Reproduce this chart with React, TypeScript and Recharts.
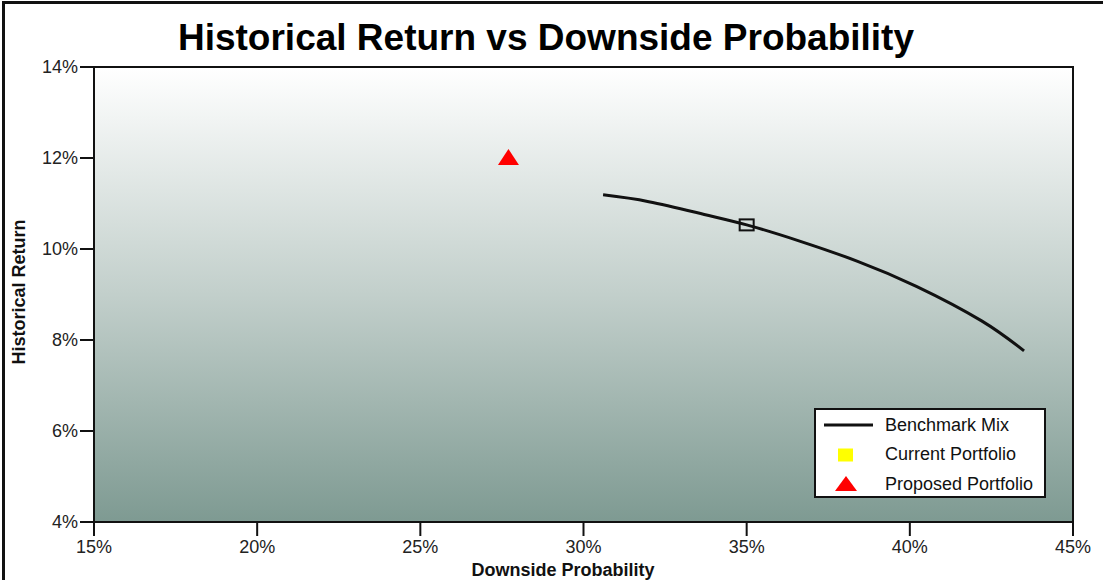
import React from "react";
import {
  ComposedChart,
  XAxis,
  YAxis,
  Line,
  Scatter,
  ReferenceArea,
  Legend,
} from "recharts";

// Benchmark mix frontier (downside probability %, historical return %)
const benchmarkX = [30.6, 32.0, 33.7, 35.0, 36.6, 38.4, 40.2, 42.2, 43.5];
const benchmarkY = [11.19, 11.04, 10.76, 10.53, 10.18, 9.73, 9.18, 8.42, 7.76];

// marked point on the benchmark curve
const currentX = [35.0];
const currentY = [10.53];

const proposedX = [27.7];
const proposedY = [12.0];

const xTicks = [15, 20, 25, 30, 35, 40, 45];
const yTicks = [4, 6, 8, 10, 12, 14];

const legendItems = ["Benchmark Mix", "Current Portfolio", "Proposed Portfolio"];

const benchmarkData = benchmarkX.map((x, i) => ({ x, y: benchmarkY[i] }));
const currentData = currentX.map((x, i) => ({ x, y: currentY[i] }));
const proposedData = proposedX.map((x, i) => ({ x, y: proposedY[i] }));

const FONT = '"Liberation Sans", Arial, Helvetica, sans-serif';

const HollowSquare = (props: any) => {
  const { cx, cy } = props;
  return (
    <rect x={cx - 7} y={cy - 5.5} width={14} height={11} fill="none" stroke="#111" strokeWidth={2} />
  );
};

const RedTriangle = (props: any) => {
  const { cx, cy } = props;
  return (
    <polygon
      points={`${cx},${cy - 9} ${cx + 10.5},${cy + 7} ${cx - 10.5},${cy + 7}`}
      fill="#ff0000"
    />
  );
};

const LegendBox = () => (
  <div
    style={{
      width: 232,
      height: 90,
      boxSizing: "border-box",
      border: "2px solid #111",
      background: "#fff",
      fontFamily: FONT,
      fontSize: 18,
      color: "#111",
      position: "relative",
    }}
  >
    {legendItems.map((name, i) => (
      <div
        key={name}
        style={{ position: "absolute", left: 0, top: 3 + i * 29.5, height: 24, width: 228, display: "flex", alignItems: "center" }}
      >
        <svg width={69} height={24} style={{ flex: "none" }}>
          {i === 0 && <line x1={8} x2={57} y1={12} y2={12} stroke="#111" strokeWidth={3} />}
          {i === 1 && <rect x={22} y={5.5} width={15} height={13} fill="#ffff00" />}
          {i === 2 && <polygon points="30,4 41,19 19,19" fill="#ff0000" />}
        </svg>
        <span style={{ whiteSpace: "nowrap" }}>{name}</span>
      </div>
    ))}
  </div>
);

export default function App() {
  return (
    <div style={{ position: "absolute", left: 0, top: 0, width: 1103, height: 580, background: "#fff", overflow: "hidden" }}>
      <ComposedChart
        width={1103}
        height={580}
        margin={{ top: 67, right: 30, bottom: 0, left: 0 }}
        style={{ fontFamily: FONT }}
      >
        <defs>
          <linearGradient id="plotBg" x1="0" y1="0" x2="0" y2="1">
            <stop offset="0%" stopColor="#ffffff" />
            <stop offset="50%" stopColor="#c2cfcb" />
            <stop offset="100%" stopColor="#7e9a92" />
          </linearGradient>
        </defs>
        <text x={546} y={50} textAnchor="middle" fontFamily={FONT} fontWeight="bold" fontSize={37} fill="#000">
          Historical Return vs Downside Probability
        </text>
        <XAxis
          type="number"
          dataKey="x"
          domain={[15, 45]}
          ticks={xTicks}
          allowDuplicatedCategory={false}
          height={58}
          tickSize={14}
          tickMargin={4}
          tickFormatter={(v) => `${v}%`}
          tick={{ fill: "#222", fontSize: 18, fontFamily: FONT }}
          axisLine={{ stroke: "#111", strokeWidth: 2 }}
          tickLine={{ stroke: "#111", strokeWidth: 2 }}
          label={{
            content: () => (
              <text x={563} y={576} textAnchor="middle" fontFamily={FONT} fontWeight="bold" fontSize={18} fill="#111">
                Downside Probability
              </text>
            ),
          }}
        />
        <YAxis
          type="number"
          dataKey="y"
          domain={[4, 14]}
          ticks={yTicks}
          width={94}
          tickSize={14}
          tickMargin={2}
          tickFormatter={(v) => `${v}%`}
          tick={{ fill: "#222", fontSize: 18, fontFamily: FONT }}
          axisLine={{ stroke: "#111", strokeWidth: 2 }}
          tickLine={{ stroke: "#111", strokeWidth: 2 }}
          label={{
            content: () => (
              <text
                x={25}
                y={292}
                transform="rotate(-90 25 292)"
                textAnchor="middle"
                fontFamily={FONT}
                fontWeight="bold"
                fontSize={18}
                fill="#111"
              >
                Historical Return
              </text>
            ),
          }}
        />
        <ReferenceArea x1={15} x2={45} y1={4} y2={14} fill="url(#plotBg)" fillOpacity={1} stroke="#111" strokeWidth={2} />
        <Line
          data={benchmarkData}
          dataKey="y"
          type="natural"
          stroke="#111"
          strokeWidth={3}
          dot={false}
          activeDot={false}
          isAnimationActive={false}
          legendType="none"
        />
        <Scatter data={currentData} dataKey="y" shape={<HollowSquare />} isAnimationActive={false} legendType="none" />
        <Scatter data={proposedData} dataKey="y" shape={<RedTriangle />} isAnimationActive={false} legendType="none" />
        <Legend
          layout="vertical"
          align="center"
          verticalAlign="middle"
          content={() => <LegendBox />}
          wrapperStyle={{ position: "absolute", left: 814, top: 408, width: 232, height: 90 }}
        />
      </ComposedChart>
      <div
        style={{
          position: "absolute",
          left: 2,
          top: 1,
          width: 1110,
          height: 600,
          borderTop: "3px solid #111",
          borderLeft: "3px solid #111",
          pointerEvents: "none",
        }}
      />
    </div>
  );
}
